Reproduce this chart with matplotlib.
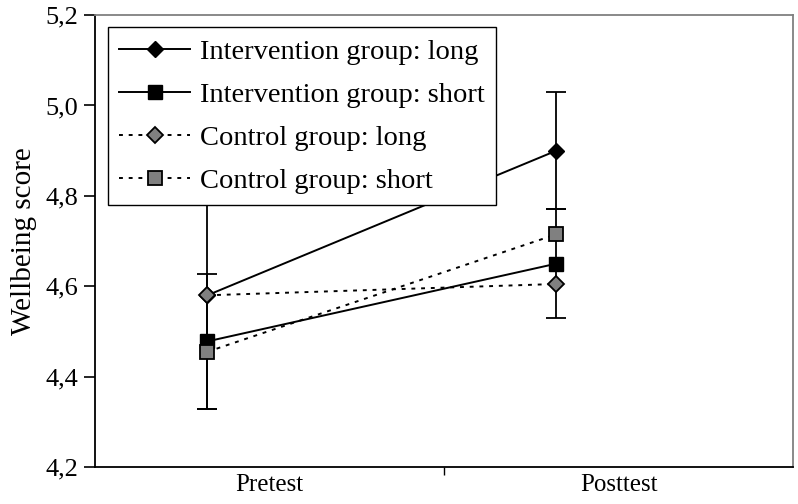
import numpy as np
import matplotlib.pyplot as plt

# data
categories = ["Pretest", "Posttest"]
int_long = [4.58, 4.90]
int_short = [4.478, 4.65]
ctrl_long = [4.58, 4.605]
ctrl_short = [4.455, 4.715]
int_long_err = [0.252, 0.13]
int_short_err = [0.15, 0.12]

plt.rcParams["font.family"] = ["Liberation Serif", "DejaVu Serif"]

fig = plt.figure(figsize=(7.98, 5.04), dpi=100)
ax = fig.add_axes([0.119, 0.0734, 0.8747, 0.8966])

cat_x = np.arange(len(categories))
px = cat_x - 0.178  # points sit left of the category centre

ax.errorbar(px, int_long, yerr=int_long_err, fmt="none", ecolor="black",
            elinewidth=1.3, capsize=7, capthick=1.3, zorder=2)
ax.errorbar(px, int_short, yerr=int_short_err, fmt="none", ecolor="black",
            elinewidth=1.3, capsize=7, capthick=1.3, zorder=2)

ax.plot(px, int_long, color="black", lw=1.4, marker="D", ms=8.5,
        mfc="black", mec="black", label="Intervention group: long", zorder=3)
ax.plot(px, int_short, color="black", lw=1.4, marker="s", ms=10,
        mfc="black", mec="black", label="Intervention group: short", zorder=3)
ax.plot(px, ctrl_long, color="black", lw=1.4, ls=(0, (2, 3)), marker="D", ms=8.5,
        mfc="#808080", mec="black", mew=1.3, label="Control group: long", zorder=4)
ax.plot(px, ctrl_short, color="black", lw=1.4, ls=(0, (2, 3)), marker="s", ms=10,
        mfc="#808080", mec="black", mew=1.3, label="Control group: short", zorder=4)

ax.set_xlim(-0.5, 1.5)
ax.set_ylim(4.2, 5.2)
ax.set_xticks(cat_x)
ax.set_xticklabels(categories, fontsize=18)
ax.tick_params(axis="x", length=0, pad=5)
ax.set_xticks([0.5], minor=True)
ax.tick_params(axis="x", which="minor", direction="out", length=6, width=1)

yt = np.arange(4.2, 5.21, 0.2)
ax.set_yticks(yt)
ax.set_yticklabels([f"{v:.1f}".replace(".", ",") for v in yt], fontsize=19)
ax.tick_params(axis="y", direction="out", length=8, width=1.2, pad=4)
ax.set_ylabel("Wellbeing score", fontsize=21, labelpad=6)

for s in ["left", "bottom"]:
    ax.spines[s].set_color("black")
    ax.spines[s].set_linewidth(1.3)
for s in ["top", "right"]:
    ax.spines[s].set_color("#808080")
    ax.spines[s].set_linewidth(1.3)

leg = ax.legend(loc="upper left", bbox_to_anchor=(0.018, 0.973), fontsize=20.5,
                frameon=True, fancybox=False, edgecolor="black", framealpha=1,
                handlelength=2.5, handletextpad=0.35, labelspacing=0.6,
                borderpad=0.4, borderaxespad=0)
leg.get_frame().set_linewidth(1.0)
leg.set_zorder(10)

fig.savefig("out.png", dpi=100)
